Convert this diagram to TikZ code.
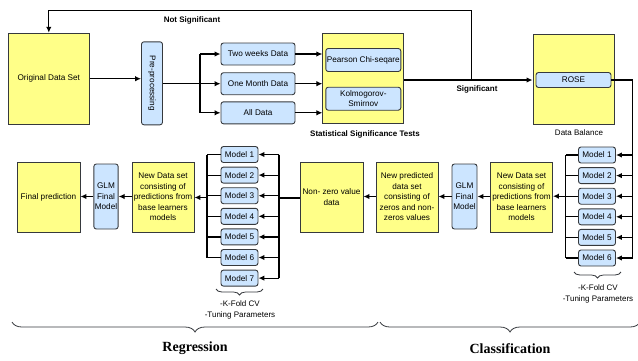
\documentclass[tikz,border=0pt]{standalone}
\usepackage{fontspec}
\setmainfont{Liberation Sans}
\newfontfamily\titleserif{Liberation Serif}
\usetikzlibrary{arrows.meta,decorations.pathreplacing,calc}

\definecolor{ybg}{HTML}{FFFF88}
\definecolor{bbg}{HTML}{CCE5FF}
\definecolor{edge}{HTML}{36393D}

\tikzset{
  base/.style={align=center, inner sep=1pt, font=\fontsize{8.2}{10.5}\selectfont},
  ybox/.style={base, draw=edge, fill=ybg, line width=0.9pt},
  bbox/.style={base, draw=edge, fill=bbg, line width=0.9pt, rounded corners=2.5pt},
  modelbox/.style={bbox, minimum width=37pt, minimum height=16pt},
  arr/.style={-{Latex[length=6pt,width=5.5pt]}, line width=1.2pt},
  wire/.style={line width=1.2pt},
  caption/.style={font=\bfseries\fontsize{8}{9.5}\selectfont},
  note/.style={align=center, font=\fontsize{8}{10.5}\selectfont},
  % the y axis points down here, so mirror turns the brace tips downward
  bigbrace/.style={decorate, decoration={brace, mirror, amplitude=10pt, aspect=0.5}, line width=0.8pt, edge},
  smallbrace/.style={decorate, decoration={brace, mirror, amplitude=6pt, aspect=0.5}, line width=0.8pt, edge},
}

\begin{document}
\begin{tikzpicture}[x=1pt,y=-1pt]
\useasboundingbox (0,0) rectangle (638,360);

% ---------- data preparation row ----------
\node[ybox, minimum width=81pt, minimum height=91pt] (orig) at (48.8,78.7) {Original Data Set};
\node[bbox, minimum width=21pt, minimum height=83pt] (pre) at (152,83.3) {\rotatebox{-90}{Pre-processing}};
\node[bbox, minimum width=74pt, minimum height=22pt] (tw) at (258,54) {Two weeks Data};
\node[bbox, minimum width=74pt, minimum height=22pt] (om) at (258,83.7) {One Month Data};
\node[bbox, minimum width=74pt, minimum height=22pt] (ad) at (258,112.8) {All Data};

\node[ybox, minimum width=81pt, minimum height=90pt] (stat) at (363.3,78) {};
\node[bbox, minimum width=75pt, minimum height=23pt] (pc) at (363.3,60) {Pearson Chi-seqare};
\node[bbox, minimum width=75pt, minimum height=23pt] (ks) at (363.3,98.7) {Kolmogorov-\\Smirnov};
\node[caption] (statlbl) at (365,134) {Statistical Significance Tests};

\node[ybox, minimum width=81pt, minimum height=90pt] (bal) at (573.5,79) {};
\node[bbox, minimum width=75pt, minimum height=15pt] (rose) at (573.5,80) {ROSE};
\node[note] (ballbl) at (579,133) {Data Balance};

\draw[arr] (orig.east) -- (orig.east -| pre.west);
\coordinate (split) at (200,83.3);
\draw[wire] (pre.east |- split) -- (split);
\draw[wire] (split |- tw) -- (split |- ad);
\foreach \n in {tw,om,ad}{
  \draw[arr] (split |- \n) -- (\n.west);
  \draw[arr] (\n.east) -- (\n.east -| stat.west);
}

% significance decision
\coordinate (fork) at (471.7,80);
\coordinate (fbtop) at (471.7,10.7);
\draw[arr] (stat.east |- rose) -- (bal.west |- rose);
\draw[arr] (fork) -- (fbtop) -| (orig.north);
\node[caption] (notsig) at (192,20.7) {Not Significant};
\node[caption] (sig) at (477,89.5) {Significant};

% ---------- classification ----------
\foreach \i in {1,...,6}{
  \node[modelbox] (cm\i) at (597,{155+20.6*(\i-1)}) {Model \i};
}
\node[ybox, minimum width=62pt, minimum height=70pt] (cnd) at (521.5,197) {New Data set\\consisting of\\predictions from\\base learners\\models};
\node[bbox, minimum width=25pt, minimum height=65pt] (cglm) at (464.5,196.5) {GLM\\Final\\Model};
\node[ybox, minimum width=62pt, minimum height=70pt] (cpred) at (407,197) {New predicted\\data set\\consisting of\\zeros and non-\\zeros values};
\node[ybox, minimum width=63pt, minimum height=70pt] (nz) at (331.5,197) {Non- zero value\\data};

\coordinate (ctop) at (632.7,80);
\coordinate (cbot) at (632.7,258);
\draw[wire] (rose.east |- ctop) -- (ctop) -- (cbot);
\coordinate (cleft) at (565.5,155);
\foreach \i in {1,...,6}{
  \draw[arr] (ctop |- cm\i) -- (cm\i.east);
  \draw[wire] (cm\i.west) -- (cleft |- cm\i);
}
\draw[wire] (cleft |- cm1) -- (cleft |- cm6);
\draw[arr] (cleft |- cm3) -- (cnd.east |- cm3);
\draw[arr] (cnd.west |- cglm) -- (cglm.east);
\draw[arr] (cglm.west) -- (cglm.west -| cpred.east);
\draw[arr] (cpred.west |- cglm) -- (nz.east |- cglm);

\draw[smallbrace] (574,272) -- (621,272);
\node[note] (ckf) at (598,294) {-K-Fold CV\\-Tuning Parameters};

% ---------- regression ----------
\foreach \i in {1,...,7}{
  \node[modelbox] (rm\i) at (239.5,{154.5+20.6*(\i-1)}) {Model \i};
}
\node[ybox, minimum width=62pt, minimum height=70pt] (rnd) at (163,197) {New Data set\\consisting of\\predictions from\\base learners\\models};
\node[bbox, minimum width=24pt, minimum height=65pt] (rglm) at (106,196.5) {GLM\\Final\\Model};
\node[ybox, minimum width=63pt, minimum height=70pt] (final) at (48.5,197) {Final prediction};

\coordinate (rright) at (279,154.5);
\coordinate (rleft) at (207,154.5);
\draw[wire] (nz.west |- 0,198) -- (rright |- 0,198);
\draw[wire] (rright |- rm1) -- (rright |- rm7);
\foreach \i in {1,...,7}{
  \draw[arr] (rright |- rm\i) -- (rm\i.east);
}
\foreach \i in {1,...,6}{
  \draw[wire] (rm\i.west) -- (rleft |- rm\i);
}
\draw[wire] (rleft |- rm1) -- (rleft |- rm6);
\draw[arr] (rleft |- 0,197.5) -- (rnd.east |- 0,197.5);
\draw[arr] (rnd.west |- rglm) -- (rglm.east);
\draw[arr] (rglm.west) -- (rglm.west -| final.east);

\draw[smallbrace] (216,289) -- (263,289);
\node[note] (rkf) at (240,310) {-K-Fold CV\\-Tuning Parameters};

% ---------- task split ----------
\draw[bigbrace] (12,322) -- (378,322);
\draw[bigbrace] (380,322) -- (640,322);
\node[font=\titleserif\bfseries\fontsize{14}{16}\selectfont] (reg) at (195,348) {Regression};
\node[font=\titleserif\bfseries\fontsize{14}{16}\selectfont] (cls) at (510,349) {Classification};
\end{tikzpicture}
\end{document}
